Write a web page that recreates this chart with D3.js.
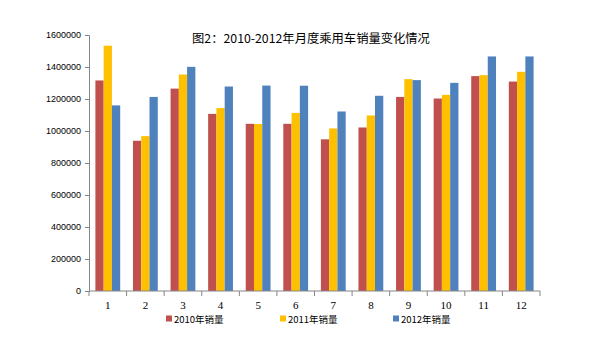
<!DOCTYPE html>
<html>
<head>
<meta charset="utf-8">
<script src="https://cdn.jsdelivr.net/npm/d3@7"></script>
<style>
  body { margin: 0; background: #fff; }
  svg { display: block; }
</style>
</head>
<body>
<script>
// months on the x axis
const months = ["1", "2", "3", "4", "5", "6", "7", "8", "9", "10", "11", "12"];
const seriesNames = ["2010年销量", "2011年销量", "2012年销量"];
const sales2010 = [1316000, 939000, 1265000, 1107000, 1045000, 1045000, 948000, 1022000, 1213000, 1203000, 1343000, 1309000];
const sales2011 = [1533000, 968000, 1353000, 1143000, 1044000, 1113000, 1016000, 1097000, 1324000, 1226000, 1349000, 1370000];
const sales2012 = [1160000, 1213000, 1401000, 1278000, 1284000, 1283000, 1122000, 1220000, 1318000, 1301000, 1466000, 1466000];
const yTicks = [0, 200000, 400000, 600000, 800000, 1000000, 1200000, 1400000, 1600000];
const colors = ["#C0504D", "#FFC000", "#4F81BD"];

const width = 608, height = 359;
const margin = { left: 89, right: 68, top: 35, bottom: 68 };

const svg = d3.select("body").append("svg")
    .attr("width", width)
    .attr("height", height);

// title
svg.append("text")
    .attr("x", 311)
    .attr("y", 43)
    .attr("text-anchor", "middle")
    .style("font-family", "'Noto Sans CJK SC', sans-serif")
    .style("font-size", "12.3px")
    .attr("fill", "#000")
    .text("图2：2010-2012年月度乘用车销量变化情况");

const x = d3.scaleBand()
    .domain(months)
    .range([margin.left, width - margin.right])
    .paddingInner(0.34)
    .paddingOuter(0.17);

const x1 = d3.scaleBand()
    .domain(seriesNames)
    .range([0, x.bandwidth()]);

const y = d3.scaleLinear()
    .domain([0, 1600000])
    .range([height - margin.bottom, margin.top]);

const data = [sales2010, sales2011, sales2012];

// bars
const groups = svg.append("g").selectAll("g")
    .data(months)
    .join("g")
    .attr("transform", d => `translate(${x(d)},0)`);

groups.selectAll("rect")
    .data((m, i) => seriesNames.map((s, k) => ({ s, k, v: data[k][i] })))
    .join("rect")
    .attr("x", d => x1(d.s))
    .attr("width", x1.bandwidth())
    .attr("y", d => y(d.v))
    .attr("height", d => y(0) - y(d.v))
    .attr("fill", d => colors[d.k]);

// y axis
const yAxis = svg.append("g")
    .attr("transform", `translate(${margin.left},0)`)
    .call(d3.axisLeft(y).tickValues(yTicks).tickSize(4).tickPadding(4).tickFormat(d3.format("d")));
yAxis.select(".domain").attr("stroke", "#868686");
yAxis.selectAll(".tick line").attr("stroke", "#868686");
yAxis.selectAll("text")
    .style("font-family", "Arial, 'Liberation Sans', sans-serif")
    .style("font-size", "9px")
    .attr("fill", "#000");

// x axis: ticks on category boundaries
const plotW = width - margin.left - margin.right;
const xg = svg.append("g")
    .attr("transform", `translate(0,${y(0)})`);
xg.append("line")
    .attr("x1", margin.left).attr("x2", width - margin.right)
    .attr("stroke", "#868686");
xg.selectAll(".xt")
    .data(d3.range(months.length + 1))
    .join("line")
    .attr("class", "xt")
    .attr("x1", i => margin.left + i * plotW / months.length)
    .attr("x2", i => margin.left + i * plotW / months.length)
    .attr("y1", 0).attr("y2", 5)
    .attr("stroke", "#868686");
xg.selectAll(".xl")
    .data(months)
    .join("text")
    .attr("class", "xl")
    .attr("x", d => x(d) + x.bandwidth() / 2)
    .attr("y", 18)
    .attr("text-anchor", "middle")
    .style("font-family", "'Liberation Serif', 'Times New Roman', serif")
    .style("font-size", "11px")
    .attr("fill", "#000")
    .text(d => d);

// legend
const legendX = [166, 280, 393];
const legend = svg.append("g").selectAll("g")
    .data(seriesNames)
    .join("g")
    .attr("transform", (d, i) => `translate(${legendX[i]},315)`);
legend.append("rect")
    .attr("y", 0.5)
    .attr("width", 6).attr("height", 6)
    .attr("fill", (d, i) => colors[i]);
legend.append("text")
    .attr("x", 8)
    .attr("y", 7.5)
    .style("font-family", "'Noto Sans CJK SC', sans-serif")
    .style("font-size", "9.5px")
    .attr("fill", "#000")
    .text(d => d);
</script>
</body>
</html>
